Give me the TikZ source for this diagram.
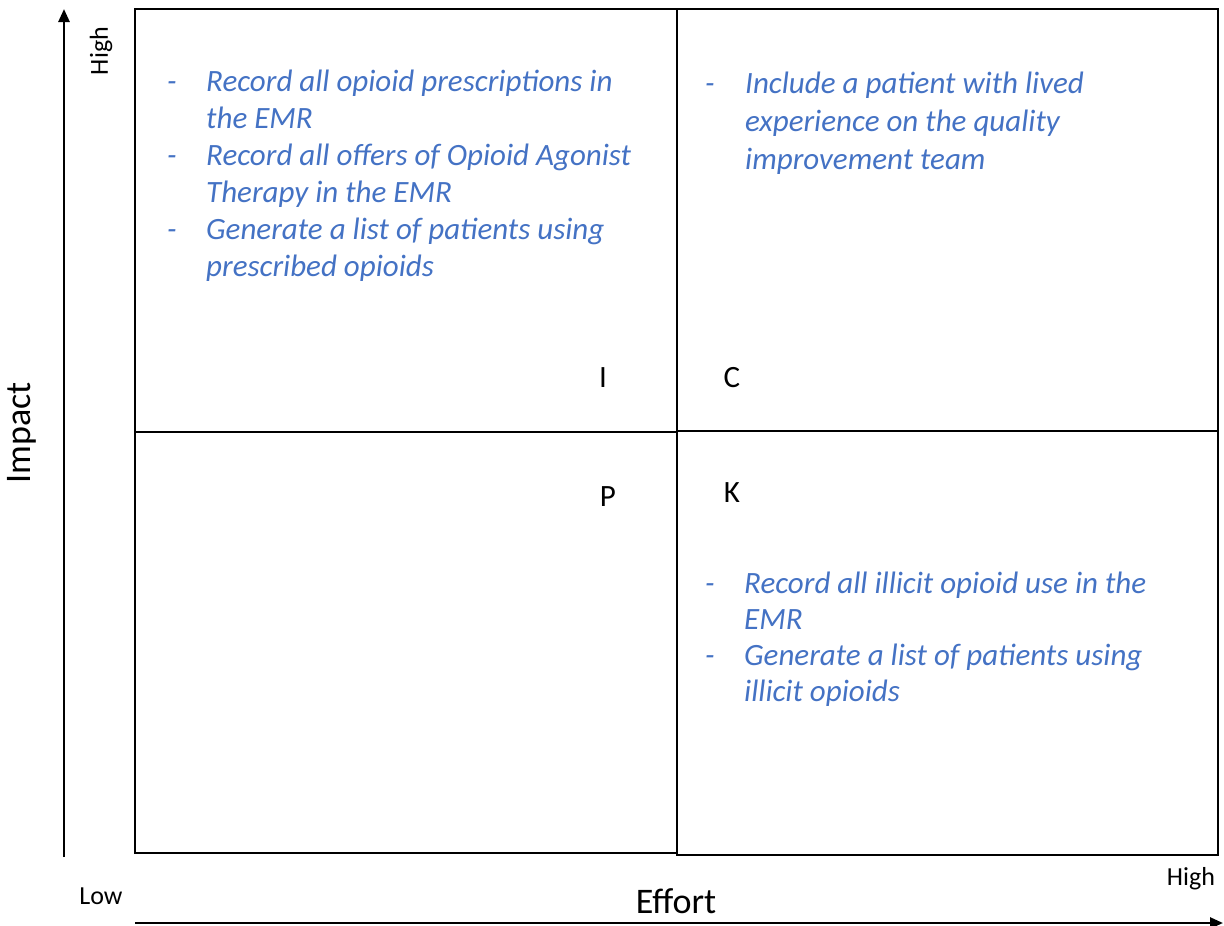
\documentclass[tikz,border=0pt]{standalone}
\usepackage{fontspec}
\setmainfont{Carlito}
\usetikzlibrary{arrows.meta}
\definecolor{itemblue}{HTML}{4472C4}
\tikzset{
  quad/.style={draw=black,line width=2.6pt},
  axis/.style={line width=2.6pt,-{Triangle[length=13pt,width=11pt]}},
  lbl/.style={inner sep=0pt,font=\fontsize{26}{30}\selectfont},
  big/.style={inner sep=0pt,font=\fontsize{36}{42}\selectfont},
  letter/.style={inner sep=0pt,font=\fontsize{31}{36}\selectfont},
  items/.style={inner sep=0pt,anchor=north west,text=itemblue,font=\fontsize{31}{37}\selectfont\itshape}
}
\begin{document}
\begin{tikzpicture}[x=1pt,y=-1pt]
\useasboundingbox (0,0) rectangle (1224,926);
% quadrants
\draw[quad] (135,9) rectangle (677,432);
\draw[quad] (677,9) rectangle (1218,431);
\draw[quad] (135,432) rectangle (677,853);
\draw[quad] (677,431) rectangle (1218,855);
% axes
\coordinate (ybot) at (64,857);
\coordinate (ytop) at (64,9);
\coordinate (xl) at (135,923);
\coordinate (xr) at (1223,923);
\draw[axis] (ybot) -- (ytop);
\draw[axis] (xl) -- (xr);
% axis labels
\node[lbl,rotate=90] (yhigh) at (101,51) {High};
\node[big,rotate=90] (impact) at (22,433) {Impact};
\node[lbl] (xlow) at (101,896) {Low};
\node[lbl] (xhigh) at (1191,879) {High};
\node[big] (effort) at (676,901) {Effort};
% quadrant letters
\node[letter] (qi) at (603,378) {I};
\node[letter] (qc) at (732,378) {C};
\node[letter] (qp) at (608,497) {P};
\node[letter] (qk) at (732,493) {K};
% items
\node[items] (tl) at (167,65) {\begin{tabular}{@{}p{39pt}@{}l@{}}
-& Record all opioid prescriptions in\\
 & the EMR\\
-& Record all offers of Opioid Agonist\\
 & Therapy in the EMR\\
-& Generate a list of patients using\\
 & prescribed opioids
\end{tabular}};
\node[items,font=\fontsize{31}{38}\selectfont\itshape] (tr) at (705,67) {\begin{tabular}{@{}p{40pt}@{}l@{}}
-& Include a patient with lived\\
 & experience on the quality\\
 & improvement team
\end{tabular}};
\node[items,font=\fontsize{31}{36}\selectfont\itshape] (br) at (705,568) {\begin{tabular}{@{}p{39pt}@{}l@{}}
-& Record all illicit opioid use in the\\
 & EMR\\
-& Generate a list of patients using\\
 & illicit opioids
\end{tabular}};
\end{tikzpicture}
\end{document}
